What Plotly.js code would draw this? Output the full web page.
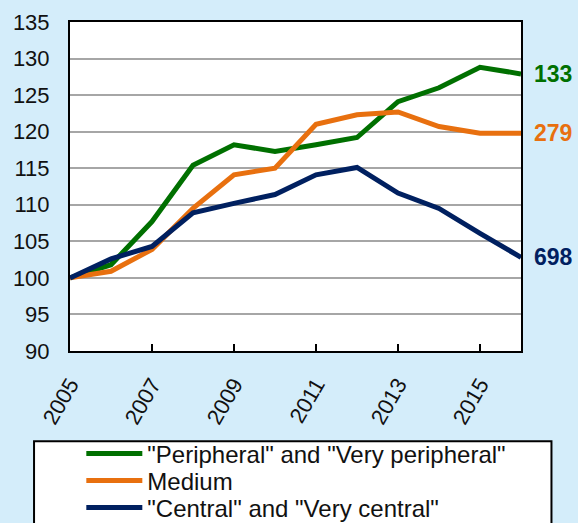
<!DOCTYPE html>
<html>
<head>
<meta charset="utf-8">
<script src="https://cdn.plot.ly/plotly-3.0.1.min.js"></script>
<style>
html,body{margin:0;padding:0;background:#d4edfa;}
#chart{width:578px;height:523px;}
</style>
</head>
<body>
<div id="chart"></div>
<script>
const years = [2005, 2006, 2007, 2008, 2009, 2010, 2011, 2012, 2013, 2014, 2015, 2016];
const peripheral = [100, 101.8, 107.7, 115.4, 118.2, 117.3, 118.2, 119.2, 124.1, 126.0, 128.8, 127.9];
const medium     = [100, 100.9, 103.9, 109.5, 114.1, 115.0, 121.0, 122.3, 122.7, 120.7, 119.8, 119.8];
const central    = [100, 102.6, 104.3, 108.9, 110.2, 111.4, 114.1, 115.1, 111.6, 109.5, 106.1, 102.8];
const seriesNames = ['"Peripheral" and "Very peripheral"', 'Medium', '"Central" and "Very central"'];
const endLabels = ['133', '279', '698'];
const colors = ['#007000', '#e8700f', '#002060'];
const xTicks = [2005, 2007, 2009, 2011, 2013, 2015];
const yTicks = [90, 95, 100, 105, 110, 115, 120, 125, 130, 135];

const seriesValues = [peripheral, medium, central];
const font = 'Arial, "Liberation Sans", sans-serif';
const legendIds = ['legend', 'legend2', 'legend3'];
const legendRowsPx = [454, 481, 508];

const traces = seriesValues.map((vals, i) => ({
  x: years, y: vals, type: 'scatter', mode: 'lines',
  name: seriesNames[i], legend: legendIds[i],
  line: {color: colors[i], width: 5}
}));

const annotations = seriesValues.map((vals, i) => ({
  x: years[years.length - 1], y: vals[vals.length - 1],
  xref: 'x', yref: 'y', text: '<b>' + endLabels[i] + '</b>',
  showarrow: false, xanchor: 'left', yanchor: 'middle', xshift: 11,
  font: {family: font, size: 23, color: colors[i]}
}));

const layout = {
  width: 578, height: 523,
  paper_bgcolor: '#d4edfa', plot_bgcolor: '#ffffff',
  margin: {l: 70, r: 56.5, t: 22, b: 171.5},
  font: {family: font, size: 22, color: '#111111'},
  showlegend: true,
  xaxis: {
    range: [2005, 2016], tickvals: xTicks, ticktext: xTicks.map(String),
    tickangle: -60, ticks: 'inside', ticklen: 7, tickwidth: 2, tickcolor: '#000',
    showline: true, linecolor: '#000', linewidth: 2, mirror: true,
    showgrid: false, zeroline: false, automargin: false,
    ticklabelstandoff: 10,
    tickfont: {family: font, size: 22, color: '#111'}
  },
  yaxis: {
    range: [90, 135], tickvals: yTicks, ticks: '',
    showline: true, linecolor: '#000', linewidth: 2, mirror: true,
    showgrid: true, gridcolor: '#a6a6a6', gridwidth: 2, zeroline: false,
    ticklabelstandoff: 14, automargin: false,
    tickfont: {family: font, size: 22, color: '#111'}
  },
  shapes: [{
    type: 'rect', xref: 'paper', yref: 'paper', layer: 'below',
    x0: (34 - 70) / 451.5, x1: (552 - 70) / 451.5,
    y0: (351.5 - 530) / 329.5, y1: (351.5 - 442) / 329.5,
    line: {color: '#000', width: 2}, fillcolor: '#ffffff'
  }],
  annotations: annotations
};

legendIds.forEach((id, i) => {
  layout[id] = {
    xref: 'paper', yref: 'container',
    x: 0.0251, xanchor: 'left',
    y: (523 - legendRowsPx[i]) / 523, yanchor: 'middle',
    bgcolor: 'rgba(0,0,0,0)', borderwidth: 0,
    itemwidth: 56,
    font: {family: font, size: 24, color: '#111'}
  };
});

Plotly.newPlot('chart', traces, layout, {displayModeBar: false, staticPlot: true});
</script>
</body>
</html>
